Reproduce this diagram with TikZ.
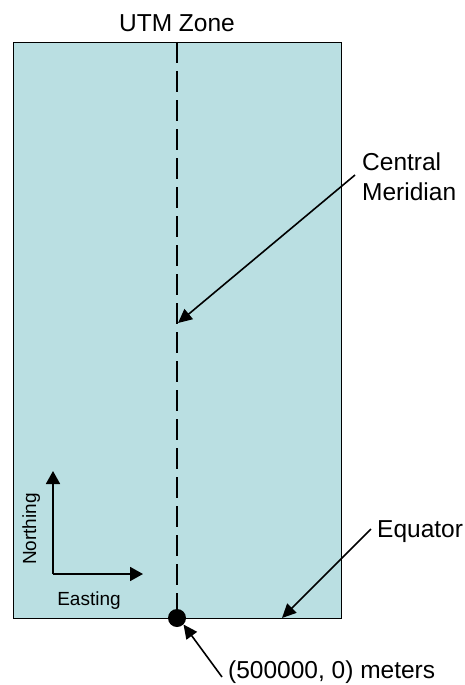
\documentclass[tikz,border=0pt]{standalone}
\usepackage{fontspec}
\setmainfont{Liberation Sans}
\usetikzlibrary{arrows.meta}
\definecolor{zonefill}{RGB}{186,223,226}
\begin{document}
\begin{tikzpicture}[x=1pt,y=-1pt,
  big/.style={font=\fontsize{24.5}{30}\selectfont, inner sep=0pt},
  small/.style={font=\fontsize{19}{22}\selectfont, inner sep=0pt},
  pointer/.style={line width=1.6pt, -{Triangle[length=14pt,width=13pt]}},
  axis/.style={line width=1.8pt, -{Triangle[length=13pt,width=14pt]}}]
\useasboundingbox (0,0) rectangle (465,685);
\node[draw=black, line width=1.4pt, fill=zonefill, minimum width=328pt, minimum height=576pt, inner sep=0pt, anchor=north west] (zone) at (13,42) {};
\node[big, anchor=base] (title) at (177,32) {UTM Zone};
\coordinate (cmtop) at (177,42);
\node[circle, fill=black, minimum size=18pt, inner sep=0pt] (origin) at (177,618) {};
\draw[line width=2.6pt, dash pattern=on 21pt off 8pt] (cmtop) -- (origin.center);
% Central meridian label
\node[big, align=left, anchor=west] (cm) at (362,177) {Central\\Meridian};
\coordinate (cmstart) at (355,175);
\coordinate (cmtip) at (178,323);
\draw[pointer] (cmstart) -- (cmtip);
% Equator
\node[big, anchor=base west] (eq) at (377,537) {Equator};
\coordinate (eqstart) at (371,529);
\coordinate (eqtip) at (282,618);
\draw[pointer] (eqstart) -- (eqtip);
% origin label
\node[big, anchor=base west] (orig) at (228,678) {(500000, 0) meters};
\coordinate (ostart) at (222,677);
\draw[pointer] (ostart) -- (origin.south east);
% axes
\coordinate (ax) at (53,574);
\coordinate (nt) at (53,471);
\coordinate (et) at (143,574);
\draw[axis] (ax) -- (nt);
\draw[axis] (ax) -- (et);
\node[small, rotate=90, anchor=base] (north) at (36,529) {Northing};
\node[small, anchor=base] (east) at (89,605) {Easting};
\end{tikzpicture}
\end{document}
